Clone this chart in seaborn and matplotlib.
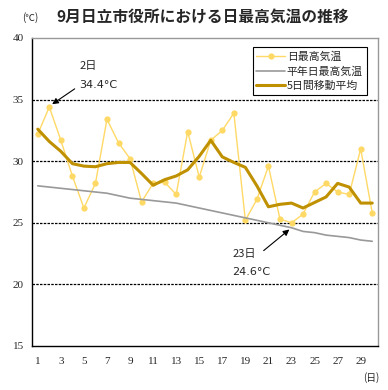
import matplotlib
matplotlib.use("Agg")
import matplotlib.pyplot as plt
import seaborn as sns
import pandas as pd
import numpy as np

days = list(range(1, 31))
daily_max = [32.2, 34.4, 31.7, 28.8, 26.2, 28.2, 33.4, 31.5, 30.2, 26.7,
             28.2, 28.3, 27.3, 32.4, 28.7, 31.7, 32.5, 33.9, 25.2, 26.9,
             29.6, 25.3, 25.0, 25.7, 27.5, 28.2, 27.5, 27.3, 31.0, 25.8]
normal_max = [28.0, 27.9, 27.8, 27.7, 27.6, 27.5, 27.4, 27.2, 27.0, 26.9,
              26.8, 26.7, 26.6, 26.4, 26.2, 26.0, 25.8, 25.6, 25.4, 25.2,
              25.0, 24.8, 24.6, 24.3, 24.2, 24.0, 23.9, 23.8, 23.6, 23.5]
moving_avg = [32.6, 31.6, 30.8, 29.8, 29.6, 29.55, 29.8, 29.9, 29.9, 29.0,
              28.05, 28.5, 28.8, 29.3, 30.4, 31.7, 30.35, 29.9, 29.5, 28.0,
              26.3, 26.5, 26.6, 26.2, 26.65, 27.1, 28.2, 27.9, 26.6, 26.6]
x_labels = [str(d) for d in days if d % 2 == 1]
y_ticks = [15, 20, 25, 30, 35, 40]

names = ["日最高気温", "平年日最高気温", "5日間移動平均"]

sns.set_style("white")
plt.rcParams['font.family'] = ['Noto Sans CJK JP', 'DejaVu Sans']

df = pd.DataFrame({"day": days, names[0]: daily_max, names[1]: normal_max, names[2]: moving_avg})

fig = plt.figure(figsize=(3.88, 3.90), dpi=100)
ax = fig.add_axes([32/388, 1-346/390, (378-32)/388, (346-38)/390])

c_max = "#FFD966"
c_norm = "#999999"
c_avg = "#BF9000"

sns.lineplot(data=df, x="day", y=names[0], ax=ax, color=c_max, lw=1.0,
             marker="o", markersize=4.5, markeredgewidth=0, label=names[0])
sns.lineplot(data=df, x="day", y=names[1], ax=ax, color=c_norm, lw=1.2, label=names[1])
sns.lineplot(data=df, x="day", y=names[2], ax=ax, color=c_avg, lw=2.2, label=names[2])

ax.set_xlim(0.5, 30.5)
ax.set_ylim(15, 40)
ax.set_xlabel("")
ax.set_ylabel("")

for yv in [20, 25, 30, 35]:
    ax.axhline(yv, color="black", lw=0.9, ls=(0, (2, 1)), zorder=0.5)

ax.set_yticks(y_ticks)
ax.set_yticklabels([str(v) for v in y_ticks], family="Liberation Serif", fontsize=8)
ax.tick_params(axis="y", length=0, pad=6)

ax.set_xticks([d for d in days if d % 2 == 1])
ax.set_xticklabels(x_labels, family="Liberation Serif", fontsize=8)
ax.set_xticks([d + 0.5 for d in range(0, 30)], minor=True)
ax.tick_params(axis="x", which="major", length=0, pad=8)
ax.tick_params(axis="x", which="minor", length=3, direction="in", color="black", width=0.8)

for s in ["left", "bottom"]:
    ax.spines[s].set_color("black")
    ax.spines[s].set_linewidth(1.0)
for s in ["top", "right"]:
    ax.spines[s].set_color("#999999")
    ax.spines[s].set_linewidth(1.0)

leg = ax.legend(loc="upper right", bbox_to_anchor=(0.983, 0.987), fontsize=7.8,
                frameon=True, fancybox=False, edgecolor="black", framealpha=1,
                handlelength=2.6, handletextpad=0.2, borderpad=0.35, labelspacing=0.4)
leg.get_frame().set_linewidth(0.8)

ax.annotate("", xy=(2.05, daily_max[1] + 0.1), xytext=(4.4, 36.0),
            arrowprops=dict(arrowstyle="-|>", color="black", lw=0.8, mutation_scale=9))
ax.text(4.6, 37.7, "2日", fontsize=8, va="center", ha="left")
ax.text(4.6, 36.2, "34.4°C", fontsize=8, va="center", ha="left",
        family=["DejaVu Sans"])

ax.annotate("", xy=(23, normal_max[22]), xytext=(20.4, 22.6),
            arrowprops=dict(arrowstyle="-|>", color="black", lw=0.8, mutation_scale=9))
ax.text(17.85, 22.5, "23日", fontsize=8, va="center", ha="left")
ax.text(17.85, 21.0, "24.6°C", fontsize=8, va="center", ha="left",
        family=["DejaVu Sans"])

fig.text(203/388, 1-18/390, "9月日立市役所における日最高気温の推移", fontsize=11.3,
         fontweight="bold", ha="center", va="center")
fig.text(30/388, 1-18/390, "(℃)", fontsize=7, ha="center", va="center")
fig.text(371/388, 1-378/390, "(日)", fontsize=7, ha="center", va="center")

fig.savefig("out.png", dpi=100)
